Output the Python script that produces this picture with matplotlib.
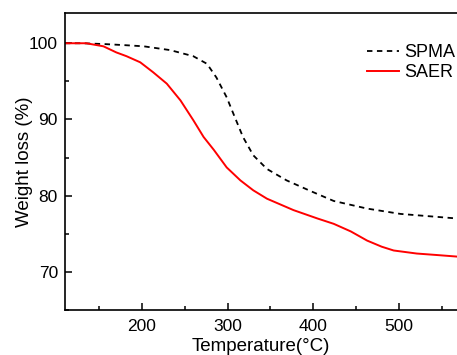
import matplotlib
matplotlib.use("Agg")
import matplotlib.pyplot as plt
from matplotlib.ticker import MultipleLocator

plt.rcParams['font.family'] = ['Liberation Sans', 'DejaVu Sans']

# TGA curves
spma_temp = [110, 130, 155, 180, 202, 233, 260, 276, 287, 299, 307, 318, 330,
             346, 369, 385, 397, 424, 463, 502, 535, 568]
spma_wt = [100.0, 100.0, 99.9, 99.75, 99.6, 99.1, 98.3, 97.3, 95.5, 92.9, 90.7,
           87.7, 85.3, 83.5, 82.0, 81.2, 80.6, 79.3, 78.3, 77.6, 77.3, 77.0]

saer_temp = [110, 135, 155, 170, 182, 198, 213, 229, 245, 260, 272, 284, 299,
             315, 330, 346, 377, 405, 424, 444, 463, 480, 494, 521, 545, 568]
saer_wt = [100.0, 100.0, 99.6, 98.8, 98.3, 97.5, 96.2, 94.7, 92.5, 89.9, 87.7,
           86.0, 83.7, 82.0, 80.7, 79.6, 78.1, 77.0, 76.3, 75.3, 74.1, 73.3,
           72.8, 72.4, 72.2, 72.0]

fig = plt.figure(figsize=(4.57, 3.55), dpi=100)
ax = fig.add_axes([0.142, 0.127, 0.858, 0.837])

ax.plot(spma_temp, spma_wt, color='black', linestyle=(0, (3, 2.5)), linewidth=1.3, label='SPMA')
ax.plot(saer_temp, saer_wt, color='red', linewidth=1.4, label='SAER')

ax.set_xlim(110, 568)
ax.set_ylim(65, 104)
ax.xaxis.set_major_locator(MultipleLocator(100))
ax.xaxis.set_minor_locator(MultipleLocator(50))
ax.yaxis.set_major_locator(MultipleLocator(10))
ax.yaxis.set_minor_locator(MultipleLocator(5))
ax.tick_params(which='both', direction='in', top=False, right=False, labelsize=12.5)
ax.tick_params(axis='x', which='both', pad=6.5)
ax.tick_params(axis='y', which='both', pad=5)
ax.tick_params(which='major', length=5, width=1.1)
ax.tick_params(which='minor', length=3, width=1.1)
ax.spines['right'].set_visible(False)
for s in ['left', 'bottom', 'top']:
    ax.spines[s].set_linewidth(1.2)

ax.set_xlabel('Temperature(°C)', fontsize=13.5, labelpad=3)
ax.set_ylabel('Weight loss (%)', fontsize=13.5)
ax.yaxis.set_label_coords(-0.082, 0.5)

ax.legend(loc='upper left', frameon=False, fontsize=13, handlelength=1.8,
          handletextpad=0.27, labelspacing=0.2, bbox_to_anchor=(0.728, 0.95))

fig.savefig('out.png', dpi=100)
